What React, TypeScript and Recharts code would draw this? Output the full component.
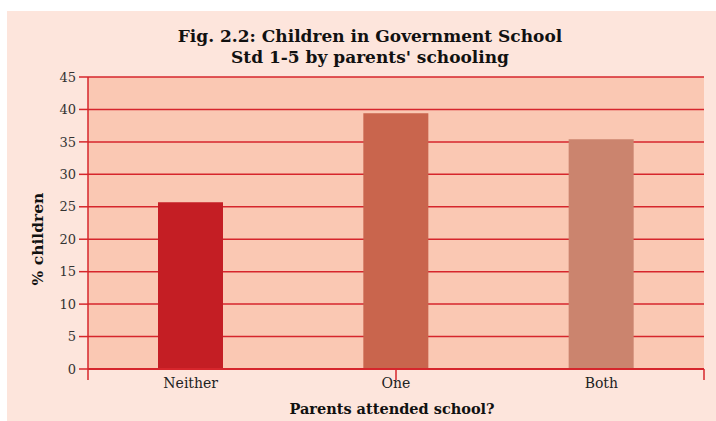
import React from 'react';
import { BarChart, Bar, XAxis, YAxis, CartesianGrid, Cell, ReferenceLine } from 'recharts';

const categories = ['Neither', 'One', 'Both'];
const values = [25.7, 39.4, 35.4];
const barColors = ['#C41E24', '#C9654D', '#CB846E'];
const yTicks = [0, 5, 10, 15, 20, 25, 30, 35, 40, 45];
const boundaryTicks = [0, 1, 2, 3];
const titleLines = ['Fig. 2.2: Children in Government School', "Std 1-5 by parents' schooling"];
const yLabel = '% children';
const xLabel = 'Parents attended school?';

const data = categories.map((c, i) => ({ name: c, value: values[i] }));

const RED = '#D6262C';
const FONT = '"DejaVu Serif", serif';

export default function App() {
  const W = 716;
  const H = 421;
  return (
    <div style={{ position: 'fixed', left: 0, top: 0, width: W, height: H, background: '#fff', overflow: 'hidden' }}>
      <div style={{ position: 'absolute', left: 7, top: 11, width: W - 7, height: H - 11, background: '#FDE5DC' }} />
      <div style={{ position: 'absolute', left: 0, top: 0 }}>
        <BarChart width={W} height={H} data={data} margin={{ top: 77, right: 12, bottom: 22, left: 28 }} barSize={65}>
          <CartesianGrid vertical={false} fill="#FAC8B3" fillOpacity={1} stroke={RED} strokeWidth={1.5} />
          <YAxis
            domain={[0, 45]}
            ticks={yTicks}
            width={60}
            axisLine={false}
            tickLine={{ stroke: RED, strokeWidth: 1.5 }}
            tickSize={9}
            tickMargin={3}
            tick={{ fill: '#333', fontSize: 13, fontFamily: FONT }}
            interval={0}
          />
          <XAxis
            dataKey="name"
            height={30}
            axisLine={{ stroke: RED, strokeWidth: 2 }}
            tickLine={false}
            tickSize={0}
            tickMargin={9}
            tick={{ fill: '#222', fontSize: 14, fontFamily: FONT }}
          />
          <XAxis xAxisId="b" type="number" domain={[0, 3]} hide allowDataOverflow />
          {boundaryTicks.map((b) => (
            <ReferenceLine
              key={b}
              xAxisId="b"
              segment={[{ x: b, y: -1.7 }, { x: b, y: b === 0 || b === 3 ? 45 : 0 }]}
              stroke={RED}
              strokeWidth={1.5}
              ifOverflow="visible"
            />
          ))}
          <Bar dataKey="value" isAnimationActive={false}>
            {data.map((d, i) => (
              <Cell key={d.name} fill={barColors[i]} />
            ))}
          </Bar>
        </BarChart>
      </div>
      <div style={{ position: 'absolute', left: 120, width: 500, top: 26, textAlign: 'center', fontFamily: FONT, fontWeight: 'bold', fontSize: 17, lineHeight: '21px', color: '#111' }}>
        {titleLines.map((t) => (
          <div key={t}>{t}</div>
        ))}
      </div>
      <div style={{ position: 'absolute', left: 37, top: 239, transform: 'translate(-50%, -50%) rotate(-90deg)', fontFamily: FONT, fontWeight: 'bold', fontSize: 15.5, color: '#111', whiteSpace: 'nowrap' }}>
        {yLabel}
      </div>
      <div style={{ position: 'absolute', left: 392, top: 408, transform: 'translate(-50%, -50%)', fontFamily: FONT, fontWeight: 'bold', fontSize: 14.5, color: '#111', whiteSpace: 'nowrap' }}>
        {xLabel}
      </div>
    </div>
  );
}
